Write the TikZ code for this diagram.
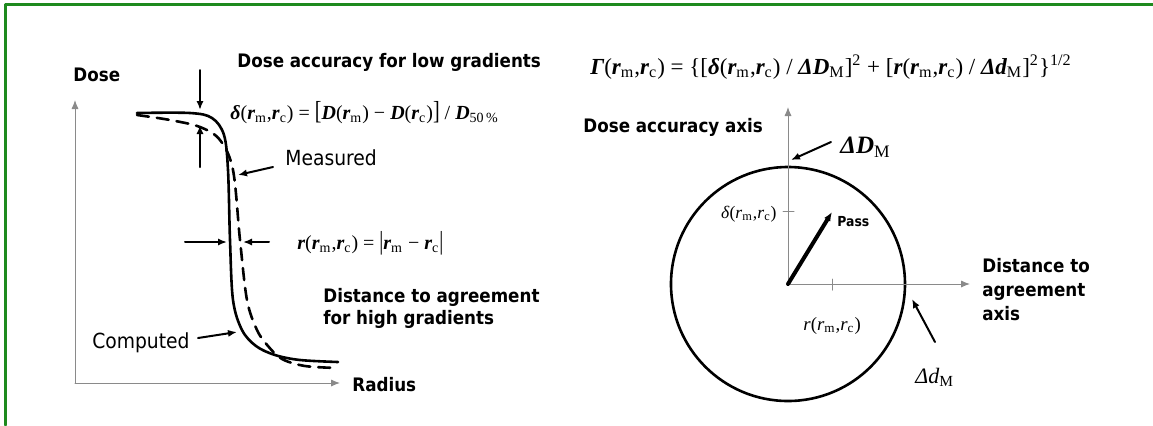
\documentclass[tikz,border=0pt]{standalone}
\usepackage{fontspec}
\usepackage{graphicx}
\setsansfont{DejaVu Sans Condensed}
\newfontfamily\tms{Liberation Serif}
\usetikzlibrary{arrows.meta}
\definecolor{frame}{HTML}{1E8A1E}
\definecolor{axisgray}{HTML}{8A8A8A}
\newcommand{\bvar}[1]{{\bfseries\itshape #1}}
\newcommand{\lo}[1]{\textsubscript{\upshape\mdseries #1}}
\newcommand{\rmc}{(\bvar{r}\lo{m},\bvar{r}\lo{c})}
\newcommand{\rmcit}{(\textit{r}\lo{m},\textit{r}\lo{c})}
\newcommand{\tall}[1]{\scalebox{1}[1.3]{#1}}

\begin{document}
\begin{tikzpicture}[x=0.5pt,y=-0.5pt,line cap=round,line join=round,
  >={Latex[length=4.5pt,width=3.6pt]},
  lbl/.style={font=\sffamily\bfseries\fontsize{9.3}{11}\selectfont,inner sep=0pt},
  note/.style={font=\sffamily\fontsize{10.4}{12}\selectfont,inner sep=0pt},
  eq/.style={font=\tms\fontsize{10}{12}\selectfont,inner sep=0pt},
  axis/.style={axisgray,line width=0.5pt,->},
  pointer/.style={line width=1pt,->}]
  \useasboundingbox (0,0) rectangle (1153,425);
  \draw[frame,line width=1.5pt] (5,425) -- (5,4) -- (1153,4);

  % Panel 1: measured and computed dose profiles.
  \coordinate (O1) at (75,383);
  \draw[axis] (O1) -- (75,100) coordinate (ytip);
  \draw[axis] (O1) -- (340,383) coordinate (xtip);
  \node[lbl,anchor=west] (dose) at (73,75) {Dose};
  \node[lbl,anchor=west] (radius) at (352,385) {Radius};
  \draw[line width=1.3pt] plot[smooth,tension=0.55] coordinates
    {(137,113) (190,113) (212,118) (224,135) (228,170) (230,240)
     (233,300) (242,330) (256,346) (275,355) (300,360) (338,362)};
  \draw[line width=1.3pt,dash pattern=on 6pt off 4pt] plot[smooth,tension=0.55] coordinates
    {(137,115) (170,120) (200,127) (220,140) (233,170) (240,240)
     (247,300) (257,330) (268,346) (282,359) (305,366) (338,368)};
  \coordinate (topin) at (200,110);
  \coordinate (botin) at (200,125);
  \draw[pointer] (200,70) -- (topin);
  \draw[pointer] (200,167) -- (botin);
  \node[lbl,anchor=west] (lowgrad) at (237,62) {Dose accuracy for low gradients};
  \node[eq,anchor=west] (deltaeq) at (230,113)
    {\bvar{δ}\rmc\ = \tall{[}\bvar{D}(\bvar{r}\lo{m}) − \bvar{D}(\bvar{r}\lo{c})\tall{]} / \bvar{D}\lo{50\,\%}};
  \node[note,anchor=west] (meas) at (285,158) {Measured};
  \coordinate (measpt) at (238,175);
  \draw[pointer] ([shift={(-12,9)}]meas.west) -- (measpt);
  \node[eq,anchor=west] (req) at (297,243)
    {\bvar{r}\rmc\ = \tall{|}\bvar{r}\lo{m} − \bvar{r}\lo{c}\tall{|}};
  \coordinate (leftin) at (227,242);
  \coordinate (rightin) at (243,242);
  \draw[pointer] (185,242) -- (leftin);
  \draw[pointer] ([xshift=-14]req.west |- rightin) -- (rightin);
  \node[lbl,anchor=north west,align=left] (highgrad) at (323,288)
    {Distance to agreement\\for high gradients};
  \node[note,anchor=west] (comp) at (92,343) {Computed};
  \coordinate (comppt) at (237,332);
  \draw[pointer] ([shift={(8,-5)}]comp.east) -- (comppt);

  % Panel 2: gamma circle in the dose/distance plane.
  \node[eq,font=\tms\fontsize{11.5}{13}\selectfont,anchor=west] (gammaeq) at (590,67)
    {\bvar{Γ}\rmc\ = \{[\bvar{δ}\rmc\ / \bvar{ΔD}\lo{M}]\textsuperscript{2}
     + [\bvar{r}\rmc\ / \bvar{Δd}\lo{M}]\textsuperscript{2}\}\textsuperscript{1/2}};
  \coordinate (O2) at (788,284);
  \draw[line width=1.3pt] (O2) circle[radius=117];
  \draw[axis] (O2) -- (788,107) coordinate (dtip);
  \draw[axis] (O2) -- (970,284) coordinate (rtip);
  \draw[axisgray,line width=0.5pt] (783,211) -- (794,211);
  \draw[axisgray,line width=0.5pt] (832,279) -- (832,290);
  \draw[line width=2pt,->] (O2) -- (832,212) coordinate (passtip);
  \node[lbl,font=\sffamily\bfseries\fontsize{6.9}{8}\selectfont,anchor=west] (pass) at (837,222) {Pass};
  \node[eq,font=\tms\fontsize{8.8}{10}\selectfont,anchor=east] (deltalbl) at (777,214) {\textit{δ}\rmcit};
  \node[eq,font=\tms\fontsize{9.4}{11}\selectfont,anchor=west] (rlbl) at (803,326) {\textit{r}\rmcit};
  \node[lbl,anchor=west] (doseaxis) at (583,127) {Dose accuracy axis};
  \node[eq,font=\tms\fontsize{12.5}{14}\selectfont,anchor=west] (DM) at (840,147) {\bvar{ΔD}\lo{M}};
  \coordinate (DMpt) at (791,160);
  \draw[pointer] ([shift={(-9,-5)}]DM.west) -- (DMpt);
  \node[eq,font=\tms\fontsize{11}{13}\selectfont,anchor=west] (dM) at (915,377) {\textit{Δd}\lo{M}};
  \coordinate (dMpt) at (912,299);
  \draw[pointer] (935,342) -- (dMpt);
  \node[lbl,anchor=north west,align=left,font=\sffamily\bfseries\fontsize{9.3}{12}\selectfont]
    (distaxis) at (982,258) {Distance to\\agreement\\axis};
\end{tikzpicture}
\end{document}
